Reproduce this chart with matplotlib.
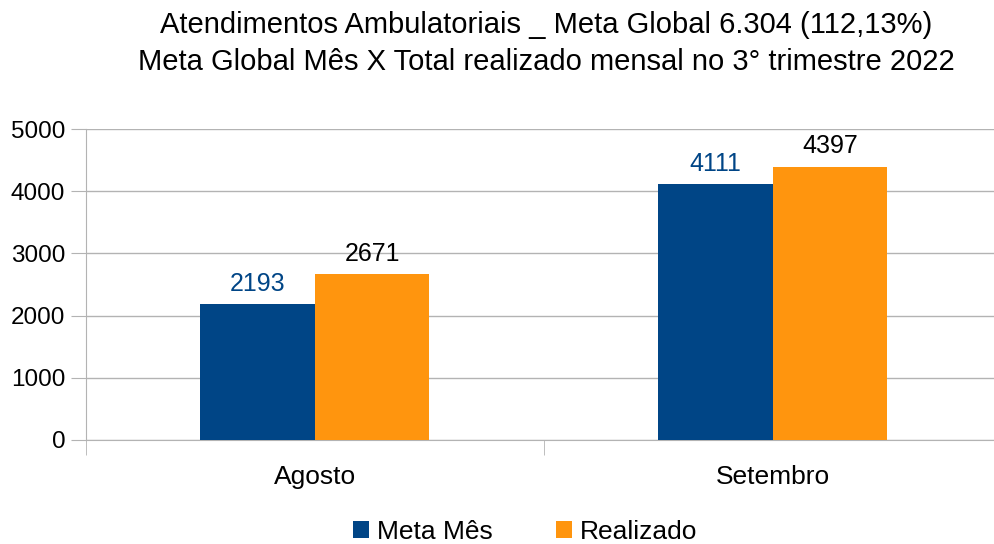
import matplotlib
matplotlib.use("Agg")
import matplotlib.pyplot as plt
import numpy as np

plt.rcParams['font.family'] = ['Liberation Sans', 'DejaVu Sans']

# data
meses = ["Agosto", "Setembro"]
meta_mes = [2193, 4111]
realizado = [2671, 4397]
series_names = ["Meta Mês", "Realizado"]
titulo = ("Atendimentos Ambulatoriais _ Meta Global 6.304 (112,13%)\n"
          "Meta Global Mês X Total realizado mensal no 3° trimestre 2022")

azul = "#004586"
laranja = "#ff950e"

fig = plt.figure(figsize=(9.95, 5.44), dpi=100)
ax = fig.add_axes([86/995, 1 - 440/544, 916/995, 311/544])

x = np.arange(len(meses))
w = 0.25
b1 = ax.bar(x - w/2, meta_mes, w, color=azul, label=series_names[0], zorder=3)
b2 = ax.bar(x + w/2, realizado, w, color=laranja, label=series_names[1], zorder=3)

# rótulos de valor
for r, v in zip(b1, meta_mes):
    ax.text(r.get_x() + r.get_width()/2, v + 130, str(v), ha='center', va='bottom',
            fontsize=18, color=azul)
for r, v in zip(b2, realizado):
    ax.text(r.get_x() + r.get_width()/2, v + 130, str(v), ha='center', va='bottom',
            fontsize=18, color='black')

ax.set_xlim(-0.5, len(meses) - 0.5)
ax.set_ylim(0, 5000)
ax.set_yticks(range(0, 5001, 1000))
ax.set_xticks(x)
ax.set_xticklabels(meses)
ax.set_xticks([-0.5, 0.5, 1.5], minor=True)
ax.tick_params(axis='x', which='major', length=0, pad=18, labelsize=19)
ax.tick_params(axis='x', which='minor', length=11, color='#b3b3b3')
ax.tick_params(axis='y', length=11, color='#b3b3b3', labelsize=17.5, pad=4)
ax.yaxis.grid(True, color='#b3b3b3', linewidth=1, zorder=0)
for s in ['top', 'right']:
    ax.spines[s].set_visible(False)
ax.spines['left'].set_color('#b3b3b3')
ax.spines['bottom'].set_color('#b3b3b3')

fig.text(0.549, 1 - 43.5/544, titulo, ha='center', va='center', fontsize=21,
         linespacing=1.38)

fig.legend(handles=[b1, b2], loc='center', bbox_to_anchor=(0.528, 1 - 532/544),
           ncol=2, frameon=False, fontsize=19, handlelength=0.6, handleheight=0.6,
           handletextpad=0.3, columnspacing=2.4)

fig.savefig("out.png", dpi=100)
